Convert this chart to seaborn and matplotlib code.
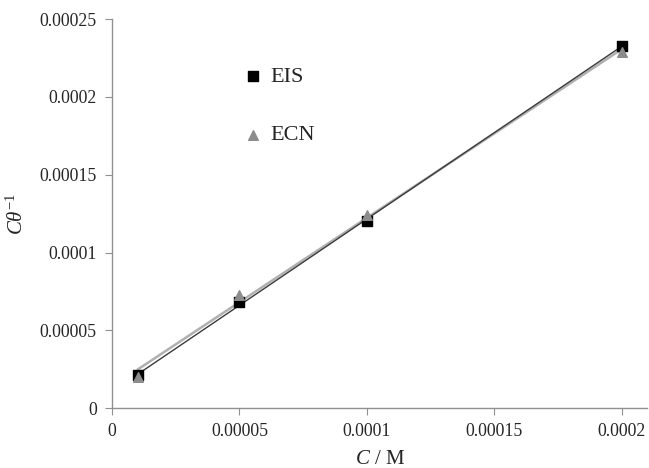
import matplotlib
matplotlib.use("Agg")
import matplotlib.pyplot as plt
import numpy as np
import pandas as pd
import seaborn as sns

# data
conc = [0.00001, 0.00005, 0.0001, 0.0002]
eis_vals = [0.000021, 0.000068, 0.000120, 0.000233]
ecn_vals = [0.000020, 0.000073, 0.000124, 0.000229]
x_ticks = [0, 0.00005, 0.0001, 0.00015, 0.0002]
x_labels = ["0", "0.00005", "0.0001", "0.00015", "0.0002"]
y_ticks = [0, 0.00005, 0.0001, 0.00015, 0.0002, 0.00025]
y_labels = ["0", "0.00005", "0.0001", "0.00015", "0.0002", "0.00025"]

df = pd.DataFrame({"C": conc, "EIS": eis_vals, "ECN": ecn_vals})

sns.set_style("white")
plt.rcParams["font.family"] = ["Liberation Serif", "DejaVu Serif"]
plt.rcParams["mathtext.fontset"] = "custom"
plt.rcParams["mathtext.it"] = "Liberation Serif:italic"
plt.rcParams["mathtext.rm"] = "Liberation Serif"

fig = plt.figure(figsize=(6.49, 4.68), dpi=100)
ax = fig.add_axes([0.1726, 0.128, 0.825, 0.831])

# trend lines
sns.regplot(data=df, x="C", y="ECN", ax=ax, scatter=False, ci=None,
            line_kws={"color": "#b0b0b0", "linewidth": 1.8})
sns.regplot(data=df, x="C", y="EIS", ax=ax, scatter=False, ci=None,
            line_kws={"color": "#3a3a3a", "linewidth": 1.0})

# markers
ax.scatter(df["C"], df["EIS"], marker="s", s=42, color="black", zorder=3, label="EIS")
ax.scatter(df["C"], df["ECN"], marker="^", s=48, color="#8c8c8c", zorder=4, label="ECN")

ax.set_xlim(0, 0.00021)
ax.set_ylim(0, 0.00025)
ax.set_xticks(x_ticks)
ax.set_xticklabels(x_labels)
ax.set_yticks(y_ticks)
ax.set_yticklabels(y_labels)
ax.tick_params(axis="both", labelsize=12.8, length=5, width=0.8,
               color="#909090", direction="out", bottom=True, left=True, pad=6)

for side in ["top", "right"]:
    ax.spines[side].set_visible(False)
for side in ["left", "bottom"]:
    ax.spines[side].set_color("#909090")
    ax.spines[side].set_linewidth(1.0)

ax.set_xlabel(r"$C$ / M", fontsize=15, labelpad=7)
ax.set_ylabel(r"$C\theta^{\mathrm{-1}}$", fontsize=15, labelpad=8)

ax.legend(loc="upper left", bbox_to_anchor=(0.221, 0.908), frameon=False,
          fontsize=16, labelspacing=1.72, handlelength=1.0, handletextpad=0.3,
          borderpad=0, scatterpoints=1)

fig.savefig("out.png", dpi=100)
